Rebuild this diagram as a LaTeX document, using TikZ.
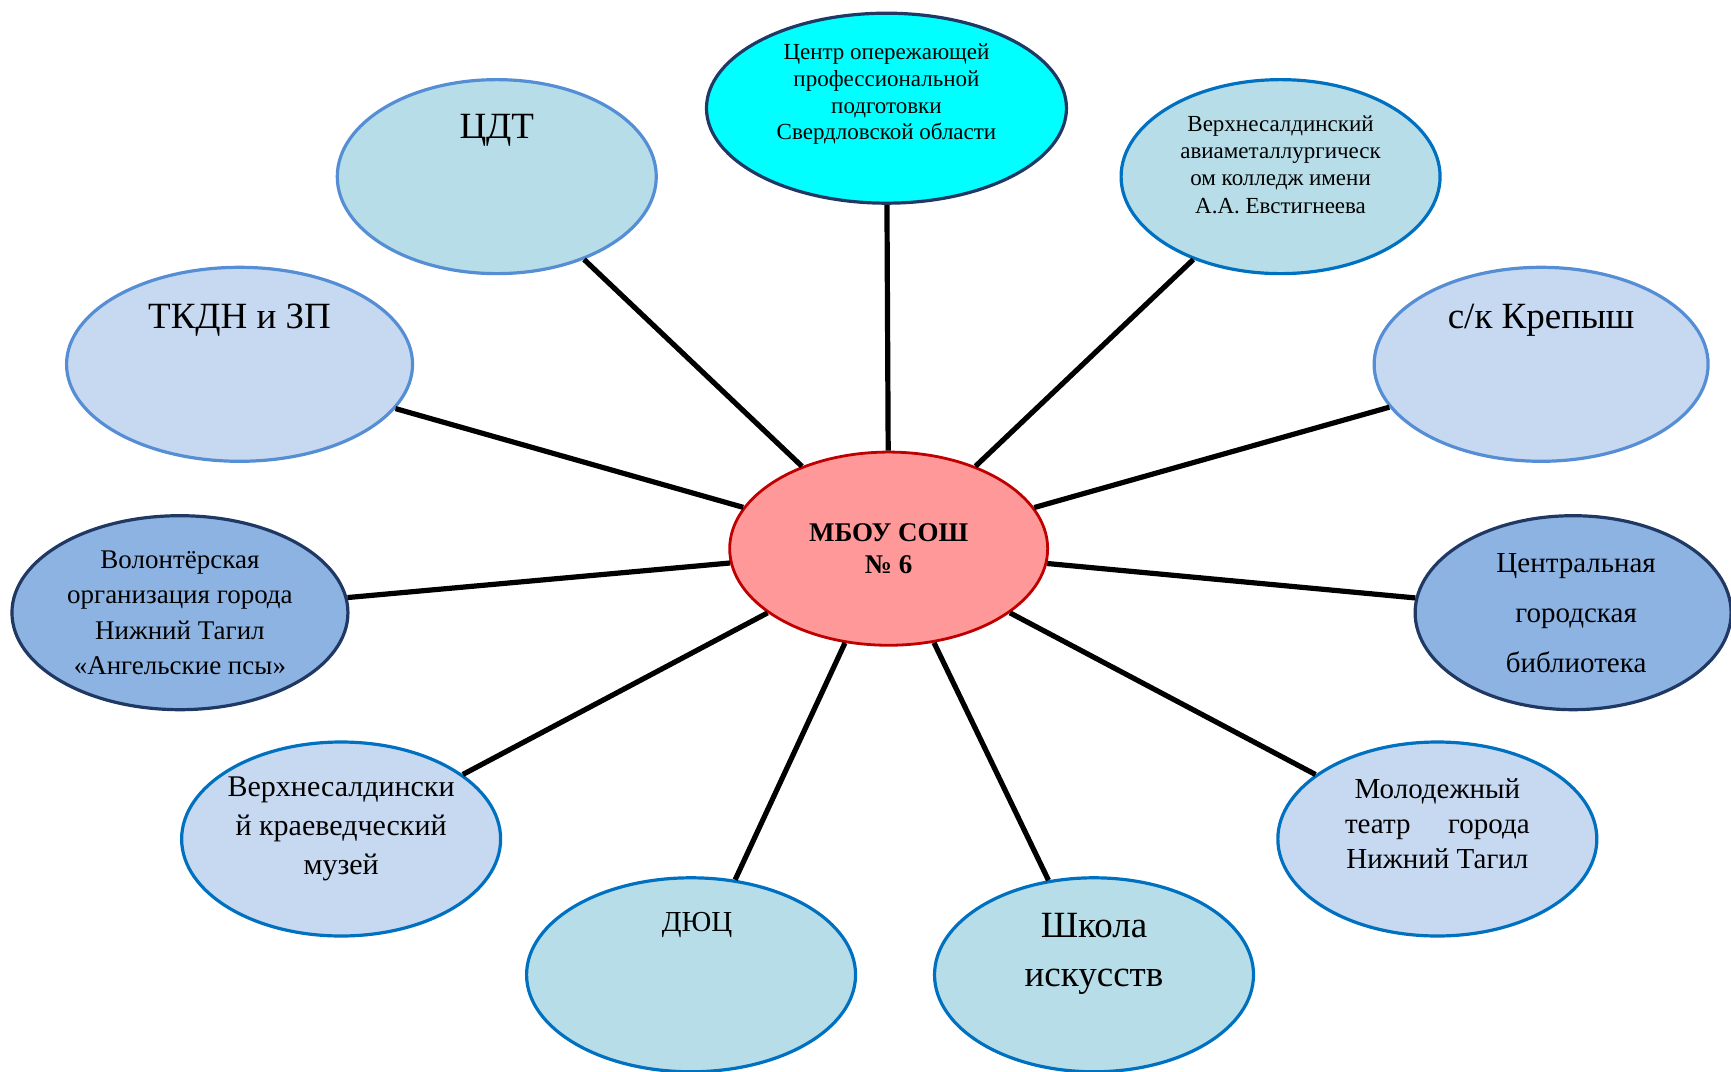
\documentclass[tikz,border=0pt]{standalone}
\usepackage{fontspec}
\setmainfont{Liberation Serif}
\usetikzlibrary{shapes.geometric}

\begin{document}
\begin{tikzpicture}[x=0.552pt, y=-0.552pt]
  \definecolor{aqua}{HTML}{00FFFF}
  \definecolor{teallight}{HTML}{B7DEE8}
  \definecolor{bluelight}{HTML}{C6D9F1}
  \definecolor{bluemid}{HTML}{8DB3E2}
  \definecolor{navy}{HTML}{1F3864}
  \definecolor{skyline}{HTML}{558ED5}
  \definecolor{deepblue}{HTML}{0070C0}
  \definecolor{rose}{HTML}{FF9999}
  \definecolor{darkred}{HTML}{C00000}
  \tikzstyle{partner}=[ellipse, line width=1.6pt, minimum width=159.5pt, minimum height=97pt, inner sep=0pt]
  \tikzstyle{every label}=[align=center, text=black]
  \tikzstyle{link}=[line width=2.6pt, black]

  \useasboundingbox (0,0) rectangle (1568,971);

  % school in the middle
  \node[ellipse, draw=darkred, fill=rose, line width=1.4pt, minimum width=159pt, minimum height=96.6pt,
        align=center, font=\bfseries\fontsize{13.5}{16}\selectfont] (mbou) at (805,497) {МБОУ СОШ\\№ 6};

  % partners
  \node[partner, draw=navy, fill=aqua, minimum width=180pt, minimum height=95pt,
        label={[yshift=7pt, font=\fontsize{11.5}{13.4}\selectfont]center:{Центр опережающей\\профессиональной\\подготовки\\Свердловской области}}] (prof) at (803,98) {};
  \node[partner, draw=skyline, fill=teallight,
        label={[yshift=23pt, font=\fontsize{18.5}{21}\selectfont]center:{ЦДТ}}] (cdt) at (450,160) {};
  \node[partner, draw=deepblue, fill=teallight,
        label={[yshift=6pt, font=\fontsize{11.5}{13.6}\selectfont]center:{Верхнесалдинский\\авиаметаллургическ\\ом колледж имени\\А.А. Евстигнеева}}] (vsamt) at (1160,160) {};
  \node[partner, draw=skyline, fill=bluelight, minimum width=173pt,
        label={[yshift=22pt, font=\fontsize{18.5}{21}\selectfont]center:{ТКДН и ЗП}}] (tkdn) at (217,330) {};
  \node[partner, draw=skyline, fill=bluelight, minimum width=167pt,
        label={[yshift=22pt, font=\fontsize{18.5}{21}\selectfont]center:{с/к Крепыш}}] (krepysh) at (1396,330) {};
  \node[partner, draw=navy, fill=bluemid, minimum width=168pt,
        label={[font=\fontsize{13.5}{17.7}\selectfont]center:{Волонтёрская\\организация города\\Нижний Тагил\\«Ангельские псы»}}] (volunteer) at (163,555) {};
  \node[partner, draw=navy, fill=bluemid, minimum width=158pt,
        label={[xshift=1.5pt, font=\fontsize{14.5}{25}\selectfont]center:{Центральная\\городская\\библиотека}}] (library) at (1425,555) {};
  \node[partner, draw=deepblue, fill=bluelight,
        label={[yshift=5pt, font=\fontsize{15}{19.3}\selectfont]center:{Верхнесалдински\\й краеведческий\\музей}}] (museum) at (309,760) {};
  \node[partner, draw=deepblue, fill=teallight, minimum width=164.5pt,
        label={[xshift=3pt, yshift=25pt, font=\fontsize{14.5}{17}\selectfont]center:{ДЮЦ}}] (dyuc) at (626,883) {};
  \node[partner, draw=deepblue, fill=teallight,
        label={[yshift=10.5pt, font=\fontsize{18.5}{24.8}\selectfont]center:{Школа\\искусств}}] (arts) at (991,883) {};
  \node[partner, draw=deepblue, fill=bluelight,
        label={[yshift=7.7pt, font=\fontsize{14.5}{17.4}\selectfont]center:{Молодежный\\театр\hspace{1.3em}города\\Нижний Тагил}}] (theatre) at (1302,760) {};

  % spokes
  \draw[link] (mbou) -- (prof);
  \draw[link] (mbou) -- (cdt);
  \draw[link] (mbou) -- (vsamt);
  \draw[link] (mbou) -- (tkdn);
  \draw[link] (mbou) -- (krepysh);
  \draw[link] (mbou) -- (volunteer);
  \draw[link] (mbou) -- (library);
  \draw[link] (mbou) -- (museum);
  \draw[link] (mbou) -- (dyuc);
  \draw[link] (mbou) -- (arts);
  \draw[link] (mbou) -- (theatre);
\end{tikzpicture}
\end{document}
